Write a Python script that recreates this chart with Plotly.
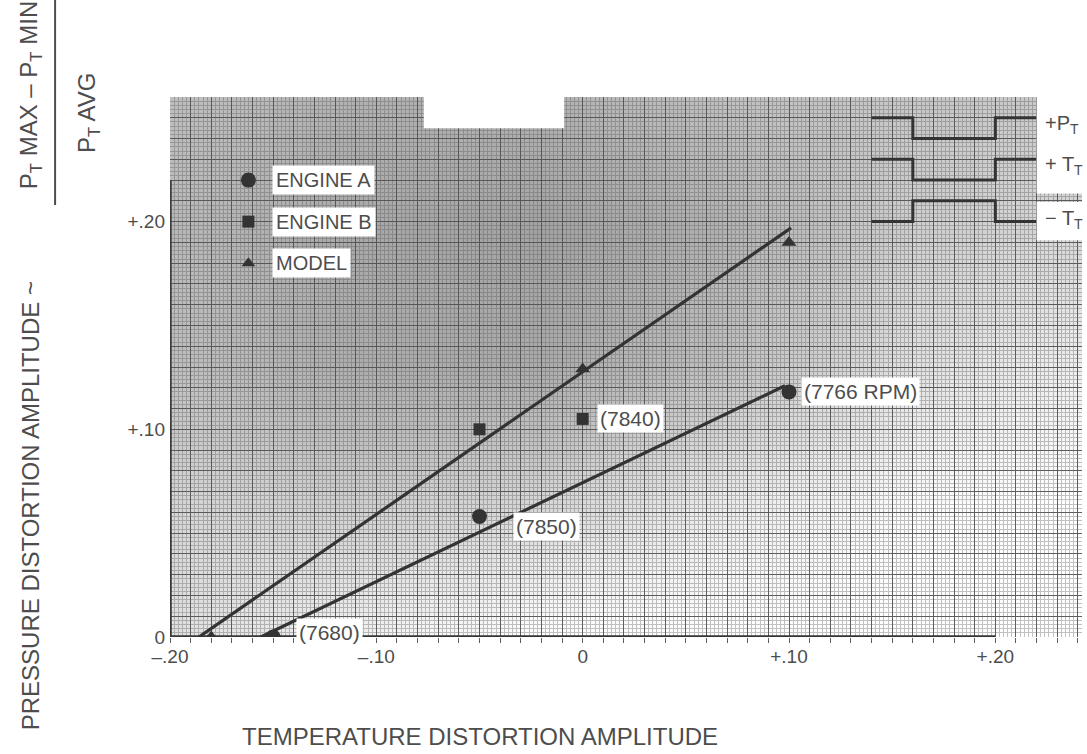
import plotly.graph_objects as go

# ---- measured data (temperature vs. pressure distortion amplitude) ----
engine_a_x = [-15, -5, 10]
engine_a_y = [0, 5.8, 11.8]
engine_a_rpm = ["(7680)", "(7850)", "(7766 RPM)"]

engine_b_x = [-5, 0]
engine_b_y = [10.0, 10.5]
engine_b_rpm = ["", "(7840)"]

model_x = [-18, 0, 10]
model_y = [0, 12.9, 19.0]

# faired lines through the data
upper_fit_x = [-18.6, 10.1]
upper_fit_y = [0, 19.7]
lower_fit_x = [-15.6, 9.8]
lower_fit_y = [0, 12.1]

# axis tick labels
x_tick_vals = [-20, -10, 0, 10, 20]
x_tick_text = ["\u2013.20", "\u2013.10", "0", "+.10", "+.20"]
y_tick_vals = [0, 10, 20]
y_tick_text = ["0", "+.10", "+.20"]

# legend entries
legend_names = ["ENGINE A", "ENGINE B", "MODEL"]
legend_symbols = ["circle", "square", "triangle-up"]
legend_sizes = [15, 12, 12]
legend_y = [22, 20, 18]
legend_x = -16.2

# waveform key: step levels (x breaks, y levels) for each case
wave_x = [14, 16, 16, 20, 20, 22]
wave_pp = [25, 25, 24, 24, 25, 25]
wave_tp = [23, 23, 22, 22, 23, 23]
wave_tm = [20, 20, 21, 21, 20, 20]
wave_labels = ["+P<sub>T</sub>", "+ T<sub>T</sub>", "\u2212 T<sub>T</sub>"]
wave_label_y = [24.7, 22.7, 20.1]

X_RANGE = [-20, 24.2]
Y_RANGE = [0, 26]

FONT = "Liberation Sans, Arial, sans-serif"
INK = "#333333"
TXT = "#4d4d4d"

fig = go.Figure()

# photocopy shading of the graph paper
shade_x = [-20, -11, -2, 7, 16, 24.2]
shade_y = [0, 6.5, 13, 19.5, 26]
shade_z = [
    [0.22, 0.1, 0.0, 0.0, 0.0, 0.0],
    [0.3, 0.35, 0.3, 0.15, 0.04, 0.0],
    [0.45, 0.58, 0.6, 0.45, 0.22, 0.12],
    [0.5, 0.62, 0.66, 0.55, 0.35, 0.28],
    [0.45, 0.55, 0.55, 0.45, 0.4, 0.38],
]
fig.add_trace(go.Heatmap(
    x=shade_x, y=shade_y, z=shade_z, zsmooth="best", zmin=0, zmax=1,
    colorscale=[[0, "rgba(80,80,80,0)"], [1, "rgba(80,80,80,0.8)"]],
    showscale=False, hoverinfo="skip",
))

# fitted lines
for fx, fy in [(upper_fit_x, upper_fit_y), (lower_fit_x, lower_fit_y)]:
    fig.add_trace(go.Scatter(x=fx, y=fy, mode="lines",
                             line=dict(color=INK, width=3.2),
                             showlegend=False, hoverinfo="skip"))

# data points
fig.add_trace(go.Scatter(x=engine_a_x, y=engine_a_y, mode="markers",
                         marker=dict(symbol="circle", size=15, color=INK),
                         name="ENGINE A", showlegend=False))
fig.add_trace(go.Scatter(x=engine_b_x, y=engine_b_y, mode="markers",
                         marker=dict(symbol="square", size=12, color=INK),
                         name="ENGINE B", showlegend=False))
fig.add_trace(go.Scatter(x=model_x, y=model_y, mode="markers",
                         marker=dict(symbol="triangle-up", size=13, color=INK),
                         name="MODEL", showlegend=False))

# hand-drawn legend markers
for sym, sz, ly in zip(legend_symbols, legend_sizes, legend_y):
    fig.add_trace(go.Scatter(x=[legend_x], y=[ly], mode="markers",
                             marker=dict(symbol=sym, size=sz, color=INK),
                             showlegend=False, hoverinfo="skip"))

# waveform key
for wy in [wave_pp, wave_tp, wave_tm]:
    fig.add_trace(go.Scatter(x=wave_x, y=wy, mode="lines",
                             line=dict(color=INK, width=3),
                             showlegend=False, hoverinfo="skip"))

# overlay axis carrying the tick labels
fig.add_trace(go.Scatter(x=[X_RANGE[0]], y=[0], xaxis="x2", yaxis="y2",
                         mode="markers", marker=dict(size=0.1, opacity=0),
                         showlegend=False, hoverinfo="skip"))

shapes = []
# heavy axis lines
shapes.append(dict(type="line", xref="x", yref="y", x0=-20, x1=20, y0=0, y1=0,
                   line=dict(color=INK, width=3.5), layer="between"))
shapes.append(dict(type="line", xref="x", yref="y", x0=-20, x1=-20, y0=0, y1=22,
                   line=dict(color=INK, width=3.5), layer="between"))
# blank label area at the top of the sheet
shapes.append(dict(type="rect", xref="x", yref="y", x0=-7.7, x1=-0.9, y0=24.5, y1=26.1,
                   fillcolor="white", line=dict(width=0), layer="above"))
# white panel behind the waveform key labels
shapes.append(dict(type="rect", xref="x", yref="y", x0=22.0, x1=24.3, y0=21.35, y1=26.1,
                   fillcolor="white", line=dict(width=0), layer="above"))
shapes.append(dict(type="rect", xref="x", yref="y", x0=22.0, x1=24.3, y0=19.1, y1=20.95,
                   fillcolor="white", line=dict(width=0), layer="above"))
# y-axis title fraction bar
shapes.append(dict(type="line", xref="paper", yref="paper",
                   x0=-0.126, x1=-0.126, y0=1.18, y1=0.80,
                   line=dict(color=TXT, width=2), layer="above"))

annotations = []
# legend labels
for name, ly in zip(legend_names, legend_y):
    annotations.append(dict(x=-15.05, y=ly, xref="x", yref="y", text=name,
                            showarrow=False, xanchor="left", yanchor="middle",
                            bgcolor="white", borderpad=3,
                            font=dict(family=FONT, size=20, color=TXT)))
# rpm labels, each offset from its point
rpm_x = engine_a_x + engine_b_x
rpm_y = engine_a_y + engine_b_y
rpm_t = engine_a_rpm + engine_b_rpm
rpm_dx = [1.1, 1.6, 0.6, 0, 0.7]
rpm_dy = [0.2, -0.5, 0.0, 0, 0.0]
for px, py, t, dx, dy in zip(rpm_x, rpm_y, rpm_t, rpm_dx, rpm_dy):
    if not t:
        continue
    annotations.append(dict(x=px + dx, y=py + dy, xref="x", yref="y", text=t,
                            showarrow=False, xanchor="left", yanchor="middle",
                            bgcolor="white", borderpad=2,
                            font=dict(family=FONT, size=21, color=TXT)))
# waveform key labels
for t, ly in zip(wave_labels, wave_label_y):
    annotations.append(dict(x=22.3, y=ly, xref="x", yref="y", text=t,
                            showarrow=False, xanchor="left", yanchor="middle",
                            font=dict(family=FONT, size=20, color=TXT)))
# y-axis title
annotations.append(dict(x=-0.153, y=0.243, xref="paper", yref="paper",
                        text="PRESSURE DISTORTION AMPLITUDE ~",
                        textangle=-90, showarrow=False,
                        xanchor="center", yanchor="middle",
                        font=dict(family=FONT, size=24, color=TXT)))
annotations.append(dict(x=-0.153, y=1.004, xref="paper", yref="paper",
                        text="P<sub>T</sub> MAX \u2013 P<sub>T</sub> MIN",
                        textangle=-90, showarrow=False,
                        xanchor="center", yanchor="middle",
                        font=dict(family=FONT, size=24, color=TXT)))
annotations.append(dict(x=-0.09, y=0.972, xref="paper", yref="paper",
                        text="P<sub>T</sub> AVG",
                        textangle=-90, showarrow=False,
                        xanchor="center", yanchor="middle",
                        font=dict(family=FONT, size=24, color=TXT)))
# x-axis title
annotations.append(dict(x=0.34, y=-0.185, xref="paper", yref="paper",
                        text="TEMPERATURE DISTORTION AMPLITUDE",
                        showarrow=False, xanchor="center", yanchor="middle",
                        font=dict(family=FONT, size=24, color=TXT)))

fig.update_layout(
    width=1087, height=754,
    margin=dict(l=170, r=5, t=97, b=117),
    paper_bgcolor="white", plot_bgcolor="white",
    showlegend=False,
    font=dict(family=FONT, color=TXT),
    shapes=shapes, annotations=annotations,
    xaxis=dict(range=X_RANGE, tickmode="linear", tick0=0, dtick=1,
               showticklabels=False, showgrid=True, gridcolor="#5e5e5e", gridwidth=1.3,
               ticks="outside", ticklen=5, tickcolor="#5e5e5e",
               minor=dict(tickmode="linear", tick0=0, dtick=0.2, showgrid=True,
                          gridcolor="#c2c2c2", gridwidth=1),
               zeroline=False, showline=False),
    yaxis=dict(range=Y_RANGE, tickmode="linear", tick0=0, dtick=1,
               showticklabels=False, showgrid=True, gridcolor="#5e5e5e", gridwidth=1.3,
               minor=dict(tickmode="linear", tick0=0, dtick=0.2, showgrid=True,
                          gridcolor="#c2c2c2", gridwidth=1),
               zeroline=False, showline=False),
    xaxis2=dict(range=X_RANGE, overlaying="x", anchor="y2", side="bottom",
                tickmode="array", tickvals=x_tick_vals, ticktext=x_tick_text,
                showgrid=False, zeroline=False, ticks="", ticklabelstandoff=6,
                tickfont=dict(family=FONT, size=19, color=TXT)),
    yaxis2=dict(range=Y_RANGE, overlaying="y", anchor="x2", side="left",
                tickmode="array", tickvals=y_tick_vals, ticktext=y_tick_text,
                showgrid=False, zeroline=False, ticks="", ticklabelstandoff=4,
                tickfont=dict(family=FONT, size=19, color=TXT)),
)

fig.write_html("out.html")
